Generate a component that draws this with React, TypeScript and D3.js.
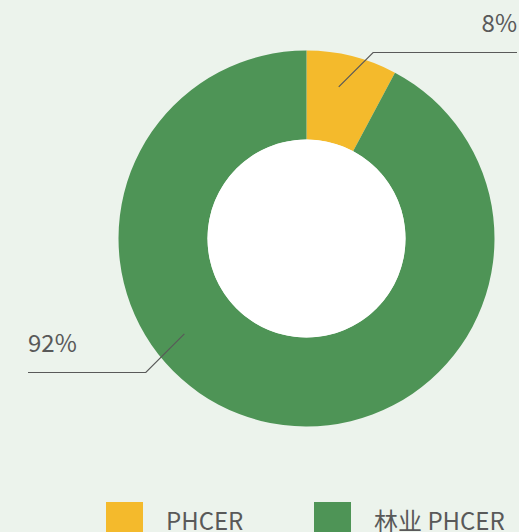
import React from 'react';
import { arc, pie } from 'd3';

const width = 519;
const height = 532;
const centerX = 306.5;
const centerY = 238.5;
const outerR = 188;
const innerR = 99;

// data
const categories = ['PHCER', '林业 PHCER'];
const values = [7.8, 92.2];
const colors = ['#f4ba2c', '#4e9456'];
// leader line anchor angle (degrees, clockwise from top) and label row
const leaderAngles = [12, 232];
const labelRows = [52.5, 372.5];
const labelEdges = [517, 28];

const font = '"Noto Sans CJK SC", "Noto Sans", sans-serif';
const textColor = '#595959';

const slicer = pie<number>().sort(null).value((d) => d);
const sliceArc = arc<any>().innerRadius(innerR).outerRadius(outerR);

const Chart = () => {
  const arcs = slicer(values);
  const total = values.reduce((a, b) => a + b, 0);
  return (
    <svg width={width} height={height} style={{ display: 'block', background: '#ecf3ec' }}>
      <g transform={`translate(${centerX},${centerY})`}>
        {arcs.map((d, i) => (
          <path key={i} d={sliceArc(d) as string} fill={colors[i]} />
        ))}
        <circle r={innerR} fill="#ffffff" />
      </g>
      {arcs.map((d, i) => {
        const a = (leaderAngles[i] * Math.PI) / 180;
        const r = 155;
        const sx = centerX + r * Math.sin(a);
        const sy = centerY - r * Math.cos(a);
        const ly = labelRows[i];
        const right = sx > centerX;
        const ex = right ? sx + Math.abs(sy - ly) : sx - Math.abs(sy - ly);
        const edge = labelEdges[i];
        const pct = Math.round((d.value / total) * 100) + '%';
        return (
          <g key={'l' + i}>
            <polyline
              points={`${sx},${sy} ${ex},${ly} ${edge},${ly}`}
              fill="none"
              stroke={textColor}
              strokeWidth={1.2}
            />
            <text
              x={edge}
              y={ly - 21}
              textAnchor={right ? 'end' : 'start'}
              fontFamily={font}
              fontSize={24}
              fill={textColor}
            >
              {pct}
            </text>
          </g>
        );
      })}
      {categories.map((c, i) => {
        const x = i === 0 ? 106 : 314;
        return (
          <g key={'g' + i} transform={`translate(${x},502)`}>
            <rect width={37} height={37} fill={colors[i]} />
            <text x={60} y={27.5} fontFamily={font} fontSize={24} fill={textColor}>
              {c}
            </text>
          </g>
        );
      })}
    </svg>
  );
};

const App = () => (
  <div style={{ position: 'absolute', left: 0, top: 0 }}>
    <Chart />
  </div>
);

export default App;
